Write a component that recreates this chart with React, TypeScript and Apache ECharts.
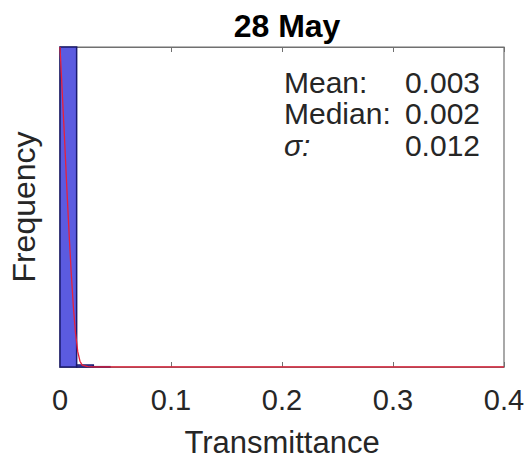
import React, { useEffect, useRef } from "react";
import * as echarts from "echarts";

const title = "28 May";
const xTicks = [0, 0.1, 0.2, 0.3, 0.4];
// histogram bins: [start, end, count]
const binStarts = [0, 0.015, 0.03];
const binEnds = [0.015, 0.03, 0.045];
const binCounts = [1000, 6, 1];
// fitted curve points (x, y)
const fitX = [0, 0.002, 0.004, 0.006, 0.008, 0.01, 0.012, 0.014, 0.016, 0.018, 0.02, 0.025, 0.03, 0.05, 0.1, 0.2, 0.3, 0.4];
const fitY = [1000, 860, 720, 570, 430, 300, 190, 105, 48, 18, 6, 1, 0, 0, 0, 0, 0, 0];
const statLabels = ["Mean:", "Median:", "σ:"];
const statValues = ["0.003", "0.002", "0.012"];

export default function App() {
  const ref = useRef<HTMLDivElement>(null);
  useEffect(() => {
    document.body.style.margin = "0";
    const chart = echarts.init(ref.current!, null, { renderer: "svg" });
    const font = "Liberation Sans, Arial, sans-serif";
    const textColor = "#262626";
    const axisColor = "#707070";
    const barData = binStarts.map((s, i) => [s, binEnds[i], binCounts[i]]);
    const lineData = fitX.map((x, i) => [x, fitY[i]]);
    const statTexts: any[] = [];
    statLabels.forEach((l, i) => {
      statTexts.push({
        type: "text",
        left: 284,
        top: 67 + i * 31.5,
        style: { text: l, font: (i === 2 ? "italic " : "") + "30px " + font, fill: textColor },
      });
      statTexts.push({
        type: "text",
        right: 51,
        top: 67 + i * 31.5,
        style: { text: statValues[i], font: "30px " + font, fill: textColor, textAlign: "right" },
      });
    });
    const fmt = (v: number) => {
      const r = Math.round(v * 10) / 10;
      return xTicks.includes(r) ? String(r) : "";
    };
    chart.setOption({
      animation: false,
      backgroundColor: "#fff",
      title: {
        text: title,
        left: 282,
        top: 5,
        textAlign: "center",
        textStyle: { fontFamily: font, fontSize: 32, fontWeight: "bold", color: "#000" },
      },
      grid: { left: 58, top: 47, right: 27, bottom: 96, show: true, borderColor: axisColor, borderWidth: 1.2 },
      xAxis: [
        {
          type: "value",
          min: 0,
          max: 0.4,
          interval: 0.1,
          name: "Transmittance",
          nameLocation: "middle",
          nameGap: 60,
          nameTextStyle: { fontFamily: font, fontSize: 31, color: textColor },
          axisLine: { show: true, lineStyle: { color: axisColor, width: 1.2 } },
          axisTick: { inside: true, length: 5, lineStyle: { color: axisColor } },
          axisLabel: { fontFamily: font, fontSize: 29, color: textColor, margin: 18, formatter: fmt },
          splitLine: { show: false },
        },
        {
          type: "value",
          position: "top",
          min: 0,
          max: 0.4,
          interval: 0.1,
          axisLine: { show: true, lineStyle: { color: axisColor, width: 1.2 } },
          axisTick: { inside: true, length: 5, lineStyle: { color: axisColor } },
          axisLabel: { show: false },
          splitLine: { show: false },
        },
      ],
      yAxis: {
        type: "value",
        min: 0,
        max: 1000,
        name: "Frequency",
        nameLocation: "middle",
        nameGap: 20,
        nameTextStyle: { fontFamily: font, fontSize: 32, color: textColor },
        axisLine: { show: true, lineStyle: { color: axisColor, width: 1.2 } },
        axisTick: { show: false },
        axisLabel: { show: false },
        splitLine: { show: false },
      },
      series: [
        {
          type: "custom",
          xAxisIndex: 0,
          data: barData,
          renderItem: (params: any, api: any) => {
            const p0 = api.coord([api.value(0), api.value(2)]);
            const p1 = api.coord([api.value(1), 0]);
            return {
              type: "rect",
              shape: { x: p0[0], y: p0[1], width: p1[0] - p0[0], height: p1[1] - p0[1] },
              style: { fill: "#5b5be0", stroke: "#1a1a6e", lineWidth: 1.5 },
            };
          },
          z: 2,
        },
        {
          type: "line",
          xAxisIndex: 0,
          data: lineData,
          showSymbol: false,
          lineStyle: { color: "#e8203a", width: 1.3 },
          z: 3,
        },
      ],
      graphic: statTexts,
    });
    return () => chart.dispose();
  }, []);
  return <div ref={ref} style={{ width: 531, height: 463 }} />;
}
